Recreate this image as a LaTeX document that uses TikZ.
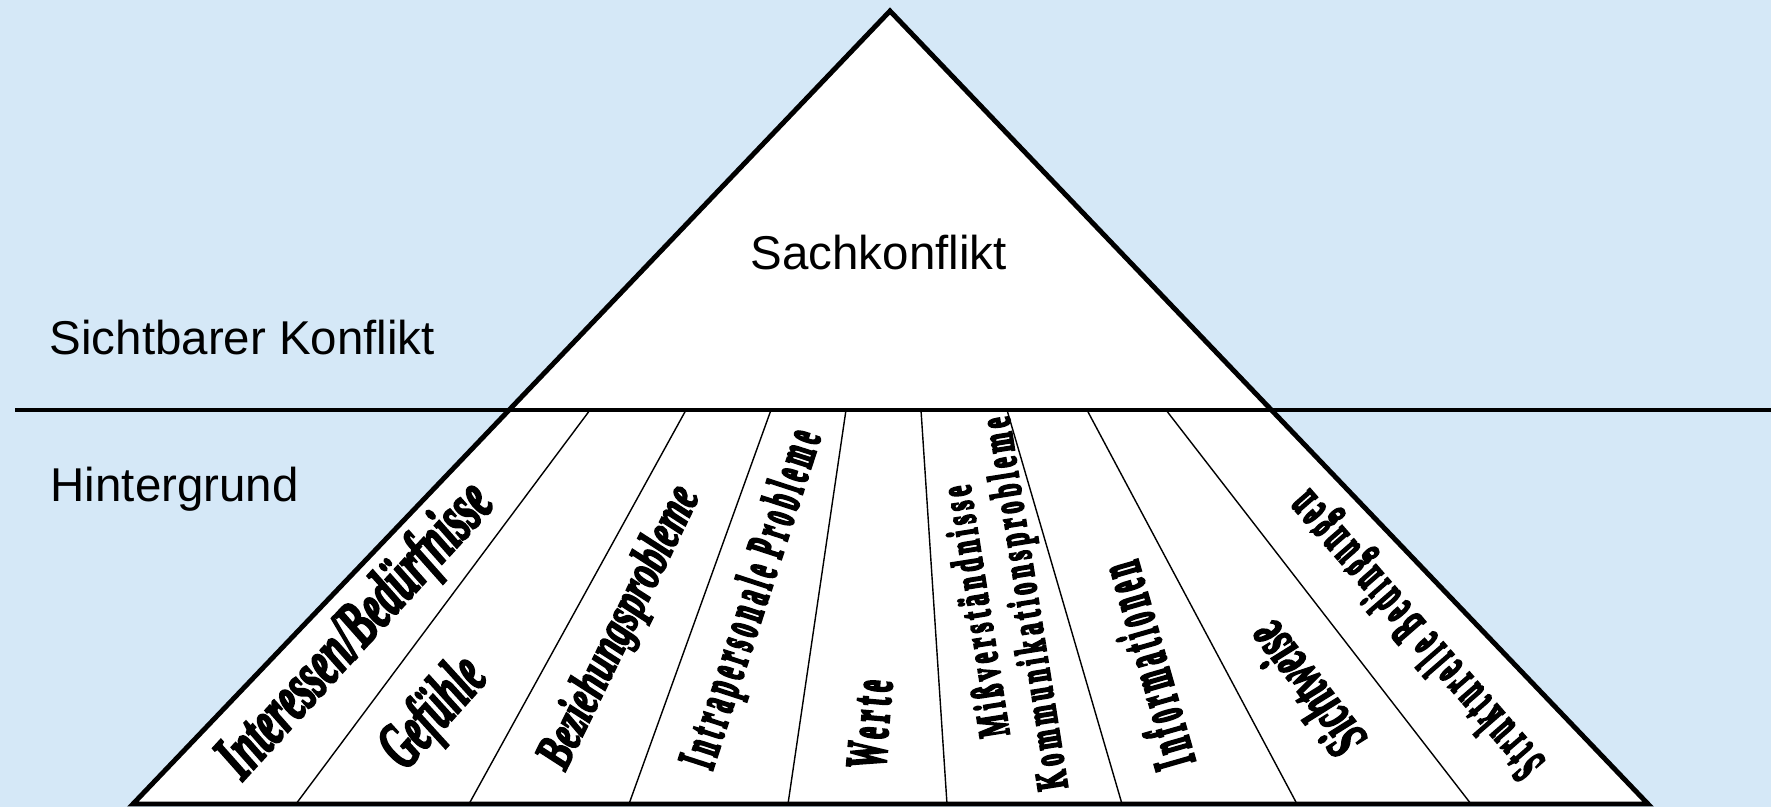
\documentclass[tikz,border=0pt]{standalone}
\usepackage{fontspec}
\setmainfont{Liberation Sans}
\newfontfamily\labfont[BoldFeatures={FakeBold=4},BoldItalicFeatures={FakeBold=4}]{Liberation Serif}
\newfontfamily\labspfont[BoldFeatures={FakeBold=6},LetterSpace=20]{Liberation Serif}
\definecolor{bgblue}{RGB}{213,232,247}
\newcommand\fitlab[2]{\resizebox{#1}{\height}{#2}}
\newcommand\itlab[1]{\fontsize{#1}{#1}\labfont\bfseries\itshape}
\newcommand\uplab[1]{\fontsize{#1}{#1}\labspfont\bfseries}
\tikzset{
  lab/.style={inner sep=0pt, anchor=center},
  side/.style={font=\fontsize{13.5}{16}\selectfont, inner sep=0pt, anchor=base west},
  divider/.style={line width=0.4pt},
  level/.style={line width=0.9pt},
  pyramid/.style={line width=1.4pt, line join=miter},
}
\begin{document}
\begin{tikzpicture}[x=0.01cm,y=0.01cm]
\fill[bgblue] (0,0) rectangle (1771,807);
\useasboundingbox (0,0) rectangle (1771,807);
\coordinate (apex) at (890,796);
\coordinate (bl) at (133,3);
\coordinate (br) at (1648,3);
\fill[white] (apex) -- (bl) -- (br) -- cycle;
\foreach \t/\b [count=\i] in {590/296,686/469,771/629,846/788,921/947,1007/1122,1087/1297,1166/1471}{
  \coordinate (t\i) at (\t,397);
  \coordinate (b\i) at (\b,3);
  \draw[divider] (t\i) -- (b\i);
}
\coordinate (hl) at (15,397);
\coordinate (hr) at (1771,397);
\draw[level] (hl) -- (hr);
\draw[pyramid] (apex) -- (bl) -- (br) -- cycle;

\node[side] (sach) at (750,537) {Sachkonflikt};
\node[side] (sicht) at (49,452) {Sichtbarer Konflikt};
\node[side] (hint) at (50,305) {Hintergrund};

\node[lab, rotate=47.5] (l1) at (357,175) {\fitlab{3.75cm}{\itlab{19}Interessen/Bedürfnisse}};
\node[lab, rotate=48] (l2) at (435,93) {\fitlab{1.25cm}{\itlab{19}Gefühle}};
\node[lab, rotate=64] (l3) at (621,179) {\fitlab{3.07cm}{\itlab{15}Beziehungsprobleme}};
\node[lab, rotate=72] (l4) at (754,207) {\fitlab{3.52cm}{\uplab{15}Intrapersonale Probleme}};
\node[lab, rotate=85] (l5) at (870,83) {\fitlab{0.88cm}{\uplab{16}Werte}};
\node[lab, rotate=99] (l6) at (1004,200) {\fitlab{3.76cm}{\fontsize{12.5}{14}\labspfont\bfseries\begin{tabular}{@{}c@{}}Mißverständnisse\\Kommunikationsprobleme\end{tabular}}};
\node[lab, rotate=106] (l7) at (1146,141) {\fitlab{2.11cm}{\uplab{17}Informationen}};
\node[lab, rotate=128] (l8) at (1305,117) {\fitlab{1.53cm}{\itlab{17}Sichtweise}};
\node[lab, rotate=131] (l9) at (1418,174) {\fitlab{3.61cm}{\uplab{15}Strukturelle Bedingungen}};
\end{tikzpicture}
\end{document}
